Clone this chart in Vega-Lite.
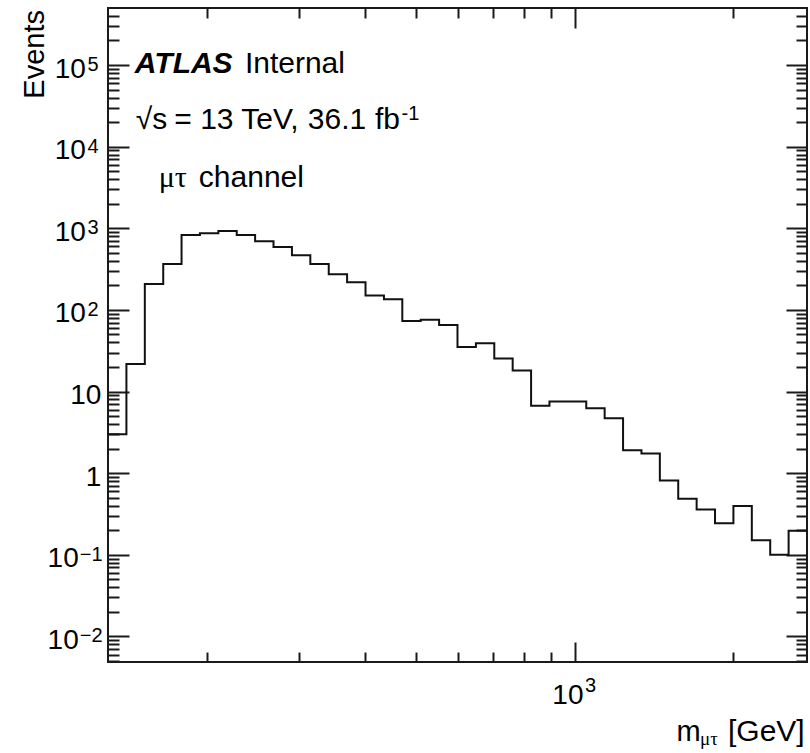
{
  "$schema": "https://vega.github.io/schema/vega-lite/v6.json",
  "width": 699,
  "height": 654,
  "autosize": {"type": "none"},
  "padding": {"left": 108, "top": 8, "right": 3, "bottom": 91},
  "background": "white",
  "config": {
    "view": {"stroke": "#1a1a1a", "strokeWidth": 2},
    "axis": {"grid": false, "domain": false, "tickColor": "#1a1a1a", "tickWidth": 2, "labelFont": "Liberation Sans", "labelFontSize": 28, "labelColor": "black", "labelOverlap": false, "labelFlush": false, "titleFont": "Liberation Sans", "titleFontSize": 29, "titleColor": "black", "titleFontWeight": "normal"}
  },
  "datasets": {
    "hist": [
      {"m": 130.0, "n": 3.0},
      {"m": 140.9, "n": 21.8},
      {"m": 152.7, "n": 208},
      {"m": 165.5, "n": 366},
      {"m": 179.3, "n": 828},
      {"m": 194.3, "n": 869},
      {"m": 210.6, "n": 927},
      {"m": 228.2, "n": 828},
      {"m": 247.3, "n": 693},
      {"m": 268.0, "n": 590},
      {"m": 290.5, "n": 468},
      {"m": 314.8, "n": 366},
      {"m": 341.2, "n": 274},
      {"m": 369.7, "n": 218},
      {"m": 400.7, "n": 150},
      {"m": 434.3, "n": 135},
      {"m": 470.6, "n": 73.3},
      {"m": 510.0, "n": 76},
      {"m": 552.7, "n": 65.5},
      {"m": 599.0, "n": 35.2},
      {"m": 649.2, "n": 39.1},
      {"m": 703.5, "n": 25.4},
      {"m": 762.4, "n": 18.1},
      {"m": 826.3, "n": 6.68},
      {"m": 895.4, "n": 7.53},
      {"m": 970.4, "n": 7.53},
      {"m": 1051.7, "n": 6.25},
      {"m": 1139.7, "n": 4.72},
      {"m": 1235.2, "n": 1.91},
      {"m": 1338.6, "n": 1.74},
      {"m": 1450.7, "n": 0.813},
      {"m": 1572.1, "n": 0.486},
      {"m": 1703.8, "n": 0.359},
      {"m": 1846.4, "n": 0.244},
      {"m": 2001.0, "n": 0.395},
      {"m": 2168.6, "n": 0.151},
      {"m": 2350.2, "n": 0.100},
      {"m": 2547.0, "n": 0.197},
      {"m": 2760.2, "n": 0.197}
    ],
    "ylab": [
      {"v": 0.01, "b": "10", "e": "−2"},
      {"v": 0.1, "b": "10", "e": "−1"},
      {"v": 1, "b": "1", "e": ""},
      {"v": 10, "b": "10", "e": ""},
      {"v": 100, "b": "10", "e": "2"},
      {"v": 1000, "b": "10", "e": "3"},
      {"v": 10000, "b": "10", "e": "4"},
      {"v": 100000, "b": "10", "e": "5"}
    ],
    "anno": [{}]
  },
  "layer": [
    {
      "data": {"name": "hist"},
      "mark": {"type": "line", "interpolate": "step-after", "color": "#111111", "strokeWidth": 2, "clip": true},
      "encoding": {
        "x": {"field": "m", "type": "quantitative",
          "scale": {"type": "log", "domain": [130, 2760.2], "nice": false},
          "axis": {"orient": "bottom", "values": [200, 300, 400, 500, 600, 700, 800, 900, 1000, 2000],
            "tickSize": {"condition": {"test": "datum.value == 1000", "value": -20}, "value": -10},
            "labels": false, "title": null}},
        "y": {"field": "n", "type": "quantitative",
          "scale": {"type": "log", "domain": [0.00486, 500000], "nice": false},
          "axis": {"orient": "left",
            "values": [0.005, 0.006, 0.007, 0.008, 0.009, 0.01, 0.02, 0.03, 0.04, 0.05, 0.06, 0.07, 0.08, 0.09, 0.1, 0.2, 0.3, 0.4, 0.5, 0.6, 0.7, 0.8, 0.9, 1, 2, 3, 4, 5, 6, 7, 8, 9, 10, 20, 30, 40, 50, 60, 70, 80, 90, 100, 200, 300, 400, 500, 600, 700, 800, 900, 1000, 2000, 3000, 4000, 5000, 6000, 7000, 8000, 9000, 10000, 20000, 30000, 40000, 50000, 60000, 70000, 80000, 90000, 100000, 200000, 300000, 400000],
            "tickSize": {"condition": {"test": "indexof([0.01, 0.1, 1, 10, 100, 1000, 10000, 100000], datum.value) >= 0", "value": -21}, "value": -11},
            "labels": false,
            "title": "Events", "titleAngle": -90, "titleAlign": "right", "titleBaseline": "alphabetic", "titleX": -65, "titleY": 1.5}}
      }
    },
    {
      "data": {"name": "hist"},
      "mark": {"type": "line", "interpolate": "step-after", "strokeOpacity": 0, "clip": true},
      "encoding": {
        "x": {"field": "m", "type": "quantitative",
          "scale": {"type": "log", "domain": [130, 2760.2], "nice": false},
          "axis": {"orient": "top", "values": [200, 300, 400, 500, 600, 700, 800, 900, 1000, 2000],
            "tickSize": {"condition": {"test": "datum.value == 1000", "value": -20}, "value": -10},
            "labels": false, "title": null}},
        "y": {"field": "n", "type": "quantitative",
          "scale": {"type": "log", "domain": [0.00486, 500000], "nice": false},
          "axis": {"orient": "right",
            "values": [0.005, 0.006, 0.007, 0.008, 0.009, 0.01, 0.02, 0.03, 0.04, 0.05, 0.06, 0.07, 0.08, 0.09, 0.1, 0.2, 0.3, 0.4, 0.5, 0.6, 0.7, 0.8, 0.9, 1, 2, 3, 4, 5, 6, 7, 8, 9, 10, 20, 30, 40, 50, 60, 70, 80, 90, 100, 200, 300, 400, 500, 600, 700, 800, 900, 1000, 2000, 3000, 4000, 5000, 6000, 7000, 8000, 9000, 10000, 20000, 30000, 40000, 50000, 60000, 70000, 80000, 90000, 100000, 200000, 300000, 400000],
            "tickSize": {"condition": {"test": "indexof([0.01, 0.1, 1, 10, 100, 1000, 10000, 100000], datum.value) >= 0", "value": -21}, "value": -11},
            "labels": false, "title": null}}
      }
    },
    {
      "data": {"name": "ylab"},
      "transform": [{"filter": "datum.v > 10"}],
      "mark": {"type": "text", "align": "right", "baseline": "alphabetic", "dy": 12.5, "font": "Liberation Sans", "fontSize": 28, "color": "black"},
      "encoding": {
        "x": {"datum": 118.0, "type": "quantitative", "scale": {"type": "log", "domain": [130, 2760.2], "nice": false}, "axis": null},
        "y": {"field": "v", "type": "quantitative", "scale": {"type": "log", "domain": [0.00486, 500000], "nice": false}, "axis": null},
        "text": {"field": "b"}
      }
    },
    {
      "data": {"name": "ylab"},
      "transform": [{"filter": "datum.v < 1"}],
      "mark": {"type": "text", "align": "right", "baseline": "alphabetic", "dy": 12.5, "font": "Liberation Sans", "fontSize": 28, "color": "black"},
      "encoding": {
        "x": {"datum": 114.4, "type": "quantitative", "scale": {"type": "log", "domain": [130, 2760.2], "nice": false}, "axis": null},
        "y": {"field": "v", "type": "quantitative", "scale": {"type": "log", "domain": [0.00486, 500000], "nice": false}, "axis": null},
        "text": {"field": "b"}
      }
    },
    {
      "data": {"name": "ylab"},
      "transform": [{"filter": "datum.e == ''"}],
      "mark": {"type": "text", "align": "right", "baseline": "alphabetic", "dy": 12.5, "font": "Liberation Sans", "fontSize": 28, "color": "black"},
      "encoding": {
        "x": {"datum": 126.3, "type": "quantitative", "scale": {"type": "log", "domain": [130, 2760.2], "nice": false}, "axis": null},
        "y": {"field": "v", "type": "quantitative", "scale": {"type": "log", "domain": [0.00486, 500000], "nice": false}, "axis": null},
        "text": {"field": "b"}
      }
    },
    {
      "data": {"name": "ylab"},
      "transform": [{"filter": "datum.v > 10"}],
      "mark": {"type": "text", "align": "left", "baseline": "alphabetic", "dy": 6, "font": "Liberation Sans", "fontSize": 20, "color": "black"},
      "encoding": {
        "x": {"datum": 118.8, "type": "quantitative", "scale": {"type": "log", "domain": [130, 2760.2], "nice": false}, "axis": null},
        "y": {"field": "v", "type": "quantitative", "scale": {"type": "log", "domain": [0.00486, 500000], "nice": false}, "axis": null},
        "text": {"field": "e"}
      }
    },
    {
      "data": {"name": "ylab"},
      "transform": [{"filter": "datum.v < 1"}],
      "mark": {"type": "text", "align": "left", "baseline": "alphabetic", "dy": 6, "font": "Liberation Sans", "fontSize": 20, "color": "black"},
      "encoding": {
        "x": {"datum": 114.9, "type": "quantitative", "scale": {"type": "log", "domain": [130, 2760.2], "nice": false}, "axis": null},
        "y": {"field": "v", "type": "quantitative", "scale": {"type": "log", "domain": [0.00486, 500000], "nice": false}, "axis": null},
        "text": {"field": "e"}
      }
    },
    {
      "data": {"name": "anno"},
      "mark": {"type": "text", "align": "right", "baseline": "alphabetic", "font": "Liberation Sans", "fontSize": 28, "color": "black"},
      "encoding": {
        "x": {"datum": 1038.9, "type": "quantitative", "scale": {"type": "log", "domain": [130, 2760.2], "nice": false}, "axis": null},
        "y": {"datum": 0.0015, "type": "quantitative", "scale": {"type": "log", "domain": [0.00486, 500000], "nice": false}, "axis": null},
        "text": {"value": "10"}
      }
    },
    {
      "data": {"name": "anno"},
      "mark": {"type": "text", "align": "left", "baseline": "alphabetic", "font": "Liberation Sans", "fontSize": 20, "color": "black"},
      "encoding": {
        "x": {"datum": 1045.8, "type": "quantitative", "scale": {"type": "log", "domain": [130, 2760.2], "nice": false}, "axis": null},
        "y": {"datum": 0.0021, "type": "quantitative", "scale": {"type": "log", "domain": [0.00486, 500000], "nice": false}, "axis": null},
        "text": {"value": "3"}
      }
    },
    {
      "data": {"name": "anno"},
      "mark": {"type": "text", "align": "left", "baseline": "alphabetic", "font": "Liberation Sans", "fontSize": 30, "fontStyle": "italic", "fontWeight": "bold", "color": "black"},
      "encoding": {
        "x": {"datum": 146.2, "type": "quantitative", "scale": {"type": "log", "domain": [130, 2760.2], "nice": false}, "axis": null},
        "y": {"datum": 79120, "type": "quantitative", "scale": {"type": "log", "domain": [0.00486, 500000], "nice": false}, "axis": null},
        "text": {"value": "ATLAS"}
      }
    },
    {
      "data": {"name": "anno"},
      "mark": {"type": "text", "align": "left", "baseline": "alphabetic", "font": "Liberation Sans", "fontSize": 30, "color": "black"},
      "encoding": {
        "x": {"datum": 236.5, "type": "quantitative", "scale": {"type": "log", "domain": [130, 2760.2], "nice": false}, "axis": null},
        "y": {"datum": 79120, "type": "quantitative", "scale": {"type": "log", "domain": [0.00486, 500000], "nice": false}, "axis": null},
        "text": {"value": "Internal"}
      }
    },
    {
      "data": {"name": "anno"},
      "mark": {"type": "text", "align": "left", "baseline": "alphabetic", "font": "Liberation Sans", "fontSize": 30, "color": "black"},
      "encoding": {
        "x": {"datum": 146.8, "type": "quantitative", "scale": {"type": "log", "domain": [130, 2760.2], "nice": false}, "axis": null},
        "y": {"datum": 16690, "type": "quantitative", "scale": {"type": "log", "domain": [0.00486, 500000], "nice": false}, "axis": null},
        "text": {"value": "√s"}
      }
    },
    {
      "data": {"name": "anno"},
      "mark": {"type": "text", "align": "left", "baseline": "alphabetic", "font": "Liberation Sans", "fontSize": 30, "color": "black"},
      "encoding": {
        "x": {"datum": 173.7, "type": "quantitative", "scale": {"type": "log", "domain": [130, 2760.2], "nice": false}, "axis": null},
        "y": {"datum": 16690, "type": "quantitative", "scale": {"type": "log", "domain": [0.00486, 500000], "nice": false}, "axis": null},
        "text": {"value": "= 13 TeV,"}
      }
    },
    {
      "data": {"name": "anno"},
      "mark": {"type": "text", "align": "left", "baseline": "alphabetic", "font": "Liberation Sans", "fontSize": 30, "color": "black"},
      "encoding": {
        "x": {"datum": 311.4, "type": "quantitative", "scale": {"type": "log", "domain": [130, 2760.2], "nice": false}, "axis": null},
        "y": {"datum": 16690, "type": "quantitative", "scale": {"type": "log", "domain": [0.00486, 500000], "nice": false}, "axis": null},
        "text": {"value": "36.1"}
      }
    },
    {
      "data": {"name": "anno"},
      "mark": {"type": "text", "align": "left", "baseline": "alphabetic", "font": "Liberation Sans", "fontSize": 30, "color": "black"},
      "encoding": {
        "x": {"datum": 417.5, "type": "quantitative", "scale": {"type": "log", "domain": [130, 2760.2], "nice": false}, "axis": null},
        "y": {"datum": 16690, "type": "quantitative", "scale": {"type": "log", "domain": [0.00486, 500000], "nice": false}, "axis": null},
        "text": {"value": "fb"}
      }
    },
    {
      "data": {"name": "anno"},
      "mark": {"type": "text", "align": "left", "baseline": "alphabetic", "font": "Liberation Sans", "fontSize": 20, "color": "black"},
      "encoding": {
        "x": {"datum": 468.9, "type": "quantitative", "scale": {"type": "log", "domain": [130, 2760.2], "nice": false}, "axis": null},
        "y": {"datum": 21210, "type": "quantitative", "scale": {"type": "log", "domain": [0.00486, 500000], "nice": false}, "axis": null},
        "text": {"value": "-1"}
      }
    },
    {
      "data": {"name": "anno"},
      "mark": {"type": "text", "align": "left", "baseline": "alphabetic", "font": "Liberation Serif", "fontSize": 30, "color": "black"},
      "encoding": {
        "x": {"datum": 162.3, "type": "quantitative", "scale": {"type": "log", "domain": [130, 2760.2], "nice": false}, "axis": null},
        "y": {"datum": 3234, "type": "quantitative", "scale": {"type": "log", "domain": [0.00486, 500000], "nice": false}, "axis": null},
        "text": {"value": "μτ"}
      }
    },
    {
      "data": {"name": "anno"},
      "mark": {"type": "text", "align": "left", "baseline": "alphabetic", "font": "Liberation Sans", "fontSize": 30, "color": "black"},
      "encoding": {
        "x": {"datum": 193.4, "type": "quantitative", "scale": {"type": "log", "domain": [130, 2760.2], "nice": false}, "axis": null},
        "y": {"datum": 3234, "type": "quantitative", "scale": {"type": "log", "domain": [0.00486, 500000], "nice": false}, "axis": null},
        "text": {"value": "channel"}
      }
    },
    {
      "data": {"name": "anno"},
      "mark": {"type": "text", "align": "left", "baseline": "alphabetic", "font": "Liberation Sans", "fontSize": 29, "color": "black"},
      "encoding": {
        "x": {"datum": 1560.6, "type": "quantitative", "scale": {"type": "log", "domain": [130, 2760.2], "nice": false}, "axis": null},
        "y": {"datum": 0.000518, "type": "quantitative", "scale": {"type": "log", "domain": [0.00486, 500000], "nice": false}, "axis": null},
        "text": {"value": "m"}
      }
    },
    {
      "data": {"name": "anno"},
      "mark": {"type": "text", "align": "left", "baseline": "alphabetic", "font": "Liberation Serif", "fontSize": 19, "color": "black"},
      "encoding": {
        "x": {"datum": 1729.6, "type": "quantitative", "scale": {"type": "log", "domain": [130, 2760.2], "nice": false}, "axis": null},
        "y": {"datum": 0.000472, "type": "quantitative", "scale": {"type": "log", "domain": [0.00486, 500000], "nice": false}, "axis": null},
        "text": {"value": "μτ"}
      }
    },
    {
      "data": {"name": "anno"},
      "mark": {"type": "text", "align": "left", "baseline": "alphabetic", "font": "Liberation Sans", "fontSize": 30, "color": "black"},
      "encoding": {
        "x": {"datum": 1954, "type": "quantitative", "scale": {"type": "log", "domain": [130, 2760.2], "nice": false}, "axis": null},
        "y": {"datum": 0.000518, "type": "quantitative", "scale": {"type": "log", "domain": [0.00486, 500000], "nice": false}, "axis": null},
        "text": {"value": "[GeV]"}
      }
    }
  ],
  "resolve": {"axis": {"x": "independent", "y": "independent"}}
}
